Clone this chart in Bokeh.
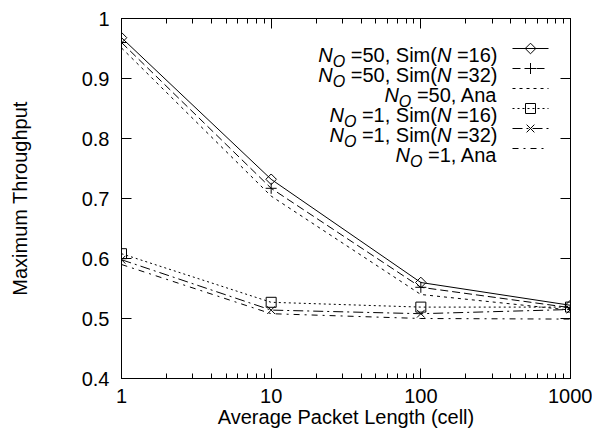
import math
from bokeh.plotting import figure
from bokeh.models import (Range1d, LogAxis, LinearAxis, FixedTicker,
                          CustomJSTickFormatter, Label)
from bokeh.embed import file_html
from bokeh.resources import INLINE

# ---------------- data ----------------
lengths = [1, 10, 100, 1000]
no50_sim16 = [0.968, 0.732, 0.560, 0.522]
no50_sim32 = [0.960, 0.717, 0.552, 0.518]
no50_ana = [0.951, 0.704, 0.540, 0.514]
no1_sim16 = [0.608, 0.527, 0.519, 0.519]
no1_sim32 = [0.598, 0.514, 0.508, 0.515]
no1_ana = [0.590, 0.508, 0.500, 0.499]

x_ticks = [1, 10, 100, 1000]
y_ticks = [0.4, 0.5, 0.6, 0.7, 0.8, 0.9, 1.0]
x_label = "Average Packet Length (cell)"
y_label = "Maximum Throughput"

# ---------------- layout ----------------
W, H = 592, 434
FL, FR, FT, FB = 121, 22, 18, 56
FW, FH = W - FL - FR, H - FT - FB
FONT = "Liberation Sans"
FS = 20

p = figure(width=W, height=H, output_backend="svg", toolbar_location=None,
           x_axis_type="log", x_range=Range1d(1, 1000), y_range=Range1d(0.4, 1.0),
           min_border_left=FL, min_border_right=FR, min_border_top=FT,
           min_border_bottom=FB)
p.xgrid.visible = False
p.ygrid.visible = False
p.outline_line_color = "black"
p.background_fill_color = "white"
p.border_fill_color = "white"

minor = [m * d for d in [1, 10, 100] for m in range(2, 10)]
xticker = FixedTicker(ticks=x_ticks, minor_ticks=minor)
yticker = FixedTicker(ticks=y_ticks, minor_ticks=[])


def style_axis(ax):
    ax.axis_line_color = "black"
    ax.axis_line_width = 1
    ax.major_tick_line_color = "black"
    ax.minor_tick_line_color = "black"
    ax.major_tick_in = 10
    ax.major_tick_out = 0
    ax.minor_tick_in = 5
    ax.minor_tick_out = 0
    ax.major_label_text_font = FONT
    ax.major_label_text_font_size = f"{FS}px"
    ax.major_label_text_color = "black"
    ax.axis_label_text_font = FONT
    ax.axis_label_text_font_size = f"{FS}px"
    ax.axis_label_text_font_style = "normal"
    ax.axis_label_text_color = "black"


xa = p.xaxis[0]
xa.ticker = xticker
xa.formatter = CustomJSTickFormatter(code="return tick.toFixed(0);")
style_axis(xa)
xa.major_label_standoff = 10
xa.axis_label = x_label
xa.axis_label_standoff = 0

ya = p.yaxis[0]
ya.ticker = yticker
ya.formatter = CustomJSTickFormatter(code="return tick > 0.999 ? '1' : tick.toFixed(1);")
style_axis(ya)
ya.major_label_standoff = 12
ya.axis_label = y_label
ya.axis_label_standoff = 48

empty = CustomJSTickFormatter(code="return '';")
top = LogAxis(ticker=xticker, formatter=empty)
style_axis(top)
top.major_label_standoff = 0
p.add_layout(top, "above")
right = LinearAxis(ticker=yticker, formatter=empty)
style_axis(right)
right.minor_tick_in = 0
right.major_label_standoff = 0
p.add_layout(right, "right")

# ---------------- series ----------------
series = [
    (no50_sim16, "solid", "square", 7.5, math.pi / 4, ("50", "16")),
    (no50_sim32, "8 4", "cross", 11, 0, ("50", "32")),
    (no50_ana, "3 4", None, 0, 0, ("50", None)),
    (no1_sim16, "2 3", "square", 10, 0, ("1", "16")),
    (no1_sim32, "10 4 2 4", "x", 11, 0, ("1", "32")),
    (no1_ana, "6 5 2 5", None, 0, 0, ("1", None)),
]

for ys, dash, marker, size, ang, _ in series:
    p.line(lengths, ys, line_color="black", line_width=1, line_dash=dash)
    if marker:
        p.scatter(lengths, ys, marker=marker, size=size, angle=ang,
                  line_color="black", fill_alpha=0, line_width=1)

# ---------------- legend (gnuplot style: text, then sample) ----------------
ADV = {'N': .722, 'O': .778, ' ': .278, '=': .584, ',': .278, 'S': .667,
       'i': .222, 'm': .833, '(': .333, ')': .333, 'A': .667, 'n': .556,
       'a': .556}
for d in "0123456789":
    ADV[d] = .556


def tw(s, fs):
    return sum(ADV.get(c, .556) for c in s) * fs


def dx(px):
    return 10 ** (3 * (px - FL) / FW)


def dy(py):
    return 1.0 - 0.6 * (py - FT) / FH


TEXT_RIGHT = 497
SAMPLE_X0, SAMPLE_X1 = 512, 548
SUB = 16
for i, (ys, dash, marker, size, ang, (no, n)) in enumerate(series):
    base = 54 + 20 * i
    # (text, style, size, baseline shift, leading gap in px)
    segs = [("N", "italic", FS, 0, 0), ("O", "italic", SUB, 7, 0)]
    if n is None:
        segs.append((f"={no}, Ana", "normal", FS, 0, tw(" ", FS)))
    else:
        segs += [(f"={no}, Sim(", "normal", FS, 0, tw(" ", FS)),
                 ("N", "italic", FS, 0, 0),
                 (f"={n})", "normal", FS, 0, tw(" ", FS))]
    total = sum(tw(s, f) + g for s, _, f, _, g in segs)
    x = TEXT_RIGHT - total
    for s, st, f, off, g in segs:
        x += g
        p.add_layout(Label(x=dx(x), y=dy(base + off), text=s,
                           text_font=FONT, text_font_style=st,
                           text_font_size=f"{f}px", text_color="black",
                           text_align="left", text_baseline="alphabetic"))
        x += tw(s, f)
    ly = dy(base - 6)
    p.line([dx(SAMPLE_X0), dx(SAMPLE_X1)], [ly, ly], line_color="black",
           line_width=1, line_dash=dash)
    if marker:
        p.scatter([dx((SAMPLE_X0 + SAMPLE_X1) / 2)], [ly], marker=marker,
                  size=size, angle=ang, line_color="black", fill_alpha=0,
                  line_width=1)

open("out.html", "w").write(file_html(p, INLINE))
